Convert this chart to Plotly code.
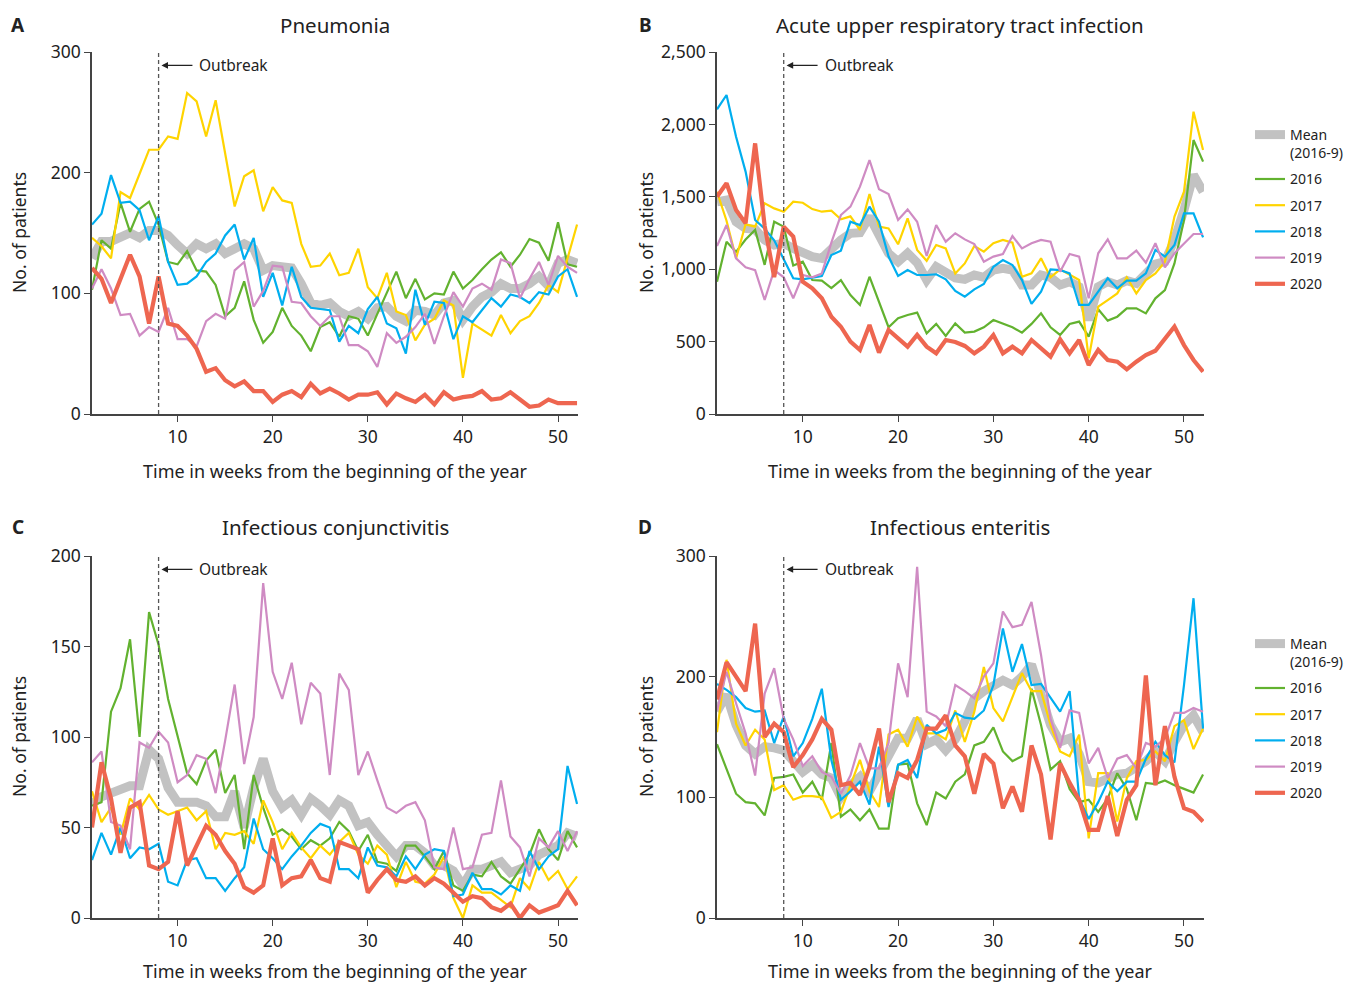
import plotly.graph_objects as go

weeks = list(range(1, 53))

# ---------------- Panel A: Pneumonia ----------------
A_mean = [129, 143, 143, 147, 150, 146, 152, 152, 148, 140, 133, 141, 137, 141, 133, 137, 141, 137, 119, 123, 122, 121, 108, 92, 90, 92, 85,
          81, 85, 79, 88, 89, 81, 77, 86, 85, 82, 92, 94, 78, 89, 97, 101, 108, 104, 104, 108, 114, 106, 125, 128, 125]
A_2016 = [103, 144, 137, 175, 151, 170, 176, 157, 126, 124, 135, 119, 118, 107, 81, 88, 110, 78, 59, 68, 88, 73, 65, 52, 72, 76, 64,
          81, 79, 65, 83, 100, 118, 96, 112, 95, 100, 99, 118, 104, 111, 120, 128, 134, 122, 132, 145, 142, 127, 159, 124, 122]
A_2017 = [146, 139, 129, 184, 179, 199, 219, 219, 230, 228, 266, 259, 230, 260, 216, 172, 197, 202, 168, 188, 177, 175, 141, 122, 123, 133, 115,
          117, 137, 105, 96, 117, 85, 82, 61, 74, 79, 94, 90, 30, 75, 70, 65, 82, 67, 77, 81, 92, 107, 101, 128, 157]
A_2018 = [157, 166, 198, 175, 176, 169, 144, 164, 126, 107, 108, 114, 126, 133, 148, 157, 128, 146, 97, 117, 90, 122, 97, 88, 87, 86, 60,
          73, 67, 87, 97, 75, 71, 50, 103, 74, 93, 92, 62, 81, 76, 86, 96, 89, 99, 97, 92, 101, 99, 114, 120, 97]
A_2019 = [104, 120, 104, 82, 83, 65, 72, 68, 88, 62, 62, 56, 77, 83, 79, 119, 126, 89, 102, 123, 122, 93, 92, 81, 73, 81, 81,
          57, 57, 52, 39, 67, 59, 64, 72, 83, 58, 81, 101, 89, 104, 108, 103, 128, 125, 96, 112, 126, 107, 131, 122, 117]
A_2020 = [121, 112, 92, 111, 132, 114, 75, 114, 75, 73, 65, 54, 35, 38, 28, 23, 27, 19, 19, 10, 16, 19, 14, 25, 17, 21, 17,
          12, 16, 16, 18, 8, 17, 13, 10, 16, 8, 18, 12, 14, 15, 19, 12, 13, 18, 12, 6, 7, 12, 9, 9, 9]

# ---------------- Panel B: Acute upper respiratory tract infection ----------------
B_mean = [1466, 1478, 1328, 1282, 1275, 1202, 1167, 1179, 1144, 1110, 1087, 1075, 1144, 1202, 1248, 1252, 1363, 1225, 1110, 1052, 1110, 1045, 925, 1017, 971, 940,
          930, 960, 944, 994, 1006, 994, 891, 891, 960, 944, 891, 914, 879, 649, 879, 914, 891, 921, 902, 960, 1036, 1052, 1202, 1409, 1651, 1535]
B_2016 = [914, 1190, 1120, 1205, 1271, 1030, 1328, 1294, 1025, 1052, 925, 921, 870, 925, 822, 753, 948, 776, 599, 661, 684, 700, 557, 622, 539, 626,
          562, 569, 599, 649, 626, 599, 562, 622, 695, 599, 546, 622, 638, 534, 723, 645, 672, 730, 730, 695, 799, 856, 1040, 1340, 1892, 1743]
B_2017 = [1535, 1335, 1075, 1310, 1294, 1455, 1420, 1397, 1466, 1459, 1415, 1397, 1404, 1345, 1365, 1271, 1519, 1294, 1282, 1172, 1351, 1133, 1058, 1167, 1144, 971,
          1040, 1160, 1121, 1179, 1202, 1183, 948, 971, 1075, 944, 999, 960, 925, 384, 741, 787, 833, 944, 833, 925, 971, 1052, 1363, 1535, 2088, 1823]
B_2018 = [2104, 2203, 1915, 1674, 1340, 1280, 1200, 1063, 937, 930, 944, 953, 1098, 1128, 1328, 1305, 1432, 1328, 1087, 953, 994, 960, 960, 965, 930, 850,
          810, 861, 898, 1017, 1063, 1029, 925, 760, 845, 999, 994, 971, 753, 753, 845, 937, 868, 921, 921, 971, 1133, 1087, 1167, 1386, 1386, 1220]
B_2019 = [1160, 1305, 1075, 1013, 994, 787, 994, 944, 799, 960, 944, 971, 1183, 1374, 1432, 1570, 1754, 1552, 1519, 1340, 1413, 1328, 1091, 1305, 1190, 1248,
          1206, 1174, 1052, 1087, 1105, 1229, 1144, 1179, 1202, 1190, 983, 1105, 1087, 799, 1110, 1206, 1075, 1075, 1128, 1045, 1179, 1013, 1110, 1174, 1243, 1243]
B_2020 = [1501, 1593, 1409, 1317, 1869, 1300, 946, 1294, 1225, 914, 868, 799, 672, 603, 500, 442, 615, 424, 580, 523, 465, 546, 465, 419, 511, 497,
          470, 419, 465, 546, 419, 465, 419, 511, 453, 396, 516, 419, 511, 338, 442, 373, 361, 308, 361, 407, 437, 523, 603, 476, 373, 292]

# ---------------- Panel C: Infectious conjunctivitis ----------------
C_mean = [63, 67, 69, 71, 73, 73, 93, 88, 72, 64, 64, 64, 62, 56, 56, 70, 50, 72, 88, 70, 61, 65, 57, 66, 62, 57, 65,
          62, 51, 53, 46, 39, 34, 40, 40, 36, 29, 29, 26, 18, 27, 27, 29, 31, 25, 27, 29, 35, 38, 40, 47, 45]
C_2016 = [62, 64, 114, 127, 154, 100, 169, 151, 121, 100, 80, 74, 87, 93, 69, 79, 38, 79, 61, 46, 49, 45, 38, 43, 40, 44, 53,
          48, 37, 46, 31, 30, 26, 40, 40, 34, 27, 37, 18, 15, 24, 23, 31, 23, 19, 27, 35, 49, 38, 32, 48, 39]
C_2017 = [70, 53, 61, 46, 66, 60, 68, 60, 57, 59, 61, 54, 59, 38, 47, 46, 48, 41, 65, 53, 38, 47, 39, 33, 40, 35, 42,
          47, 35, 30, 40, 35, 17, 31, 20, 19, 24, 34, 11, 0, 18, 14, 14, 10, 6, 22, 16, 31, 21, 26, 16, 23]
C_2018 = [32, 47, 35, 50, 33, 39, 38, 41, 20, 18, 32, 33, 22, 22, 15, 22, 28, 55, 38, 33, 27, 34, 40, 47, 52, 50, 27,
          27, 22, 39, 29, 28, 23, 34, 27, 35, 38, 37, 12, 13, 25, 16, 16, 13, 18, 15, 37, 27, 34, 38, 84, 63]
C_2019 = [86, 92, 53, 51, 38, 97, 94, 103, 97, 75, 79, 90, 88, 69, 98, 129, 85, 111, 185, 136, 121, 141, 107, 130, 124, 79, 135,
          126, 79, 92, 76, 61, 58, 62, 64, 54, 28, 27, 50, 27, 28, 46, 47, 76, 45, 39, 23, 44, 39, 48, 37, 48]
C_2020 = [50, 86, 66, 36, 61, 64, 29, 27, 31, 59, 29, 40, 51, 46, 37, 30, 17, 14, 18, 44, 18, 22, 23, 32, 22, 20, 42,
          40, 38, 14, 21, 27, 21, 20, 23, 18, 22, 19, 14, 9, 12, 11, 6, 4, 8, 0, 7, 3, 5, 7, 15, 7]

# ---------------- Panel D: Infectious enteritis ----------------
D_mean = [171, 185, 160, 143, 136, 142, 141, 139, 130, 121, 127, 119, 116, 100, 110, 117, 105, 119, 132, 149, 149, 165, 144, 148, 139, 148,
          163, 182, 188, 193, 197, 193, 200, 210, 182, 160, 146, 149, 136, 113, 112, 116, 119, 120, 124, 130, 138, 130, 146, 160, 168, 154]
D_2016 = [144, 124, 103, 96, 95, 85, 116, 117, 119, 104, 113, 98, 145, 84, 90, 81, 90, 74, 74, 127, 128, 95, 77, 104, 99, 113,
          119, 143, 146, 158, 138, 130, 134, 190, 160, 123, 130, 107, 96, 98, 88, 99, 120, 107, 81, 112, 111, 114, 110, 107, 104, 119]
D_2017 = [154, 214, 161, 143, 156, 148, 106, 110, 98, 101, 101, 100, 83, 88, 110, 131, 105, 92, 152, 156, 142, 167, 153, 153, 148, 172,
          146, 171, 208, 174, 163, 183, 203, 188, 188, 160, 138, 134, 152, 66, 120, 120, 80, 116, 130, 131, 138, 130, 159, 164, 140, 157]
D_2018 = [194, 189, 183, 174, 171, 172, 145, 167, 134, 145, 165, 190, 131, 98, 105, 113, 94, 142, 92, 127, 131, 116, 160, 153, 156, 170,
          166, 165, 172, 193, 240, 204, 227, 193, 194, 182, 171, 188, 99, 82, 96, 113, 105, 113, 113, 132, 146, 135, 129, 193, 265, 157]
D_2019 = [172, 204, 178, 153, 118, 186, 207, 165, 148, 126, 134, 121, 117, 103, 118, 145, 124, 124, 145, 211, 183, 291, 171, 167, 159, 193,
          188, 182, 200, 211, 254, 241, 243, 262, 218, 165, 141, 172, 170, 128, 141, 116, 132, 135, 124, 145, 142, 149, 170, 170, 174, 171]
D_2020 = [181, 212, 200, 188, 244, 150, 161, 154, 125, 135, 148, 165, 156, 110, 112, 102, 125, 157, 96, 120, 116, 131, 157, 157, 168, 143,
          134, 103, 136, 128, 91, 109, 88, 143, 119, 65, 128, 112, 98, 73, 73, 101, 68, 98, 110, 201, 110, 159, 117, 91, 88, 80]

series_names = ["Mean<br>(2016-9)", "2016", "2017", "2018", "2019", "2020"]
series_colors = ["#C2C2C2", "#62B22F", "#FFD400", "#00AEEF", "#CF8BC3", "#EE6650"]
series_widths = [9, 2.2, 2.2, 2.2, 2.2, 4.2]

panel_titles = ["Pneumonia", "Acute upper respiratory tract infection",
                "Infectious conjunctivitis", "Infectious enteritis"]
panel_letters = ["A", "B", "C", "D"]
outbreak_week = 8

W, H = 1360, 985
FONT = "Noto Sans"
TXT = "#222222"
AXC = "#444444"


def px(x):
    return x / W


def py(y):
    return 1 - y / H


panels = [
    dict(data=[A_mean, A_2016, A_2017, A_2018, A_2019, A_2020], xa="x", ya="y",
         xd=[92, 578], yd=[414, 52], yr=[0, 300], dt=100, legend=None, cx=335, top=25, xt=471),
    dict(data=[B_mean, B_2016, B_2017, B_2018, B_2019, B_2020], xa="x2", ya="y2",
         xd=[717, 1204], yd=[414, 52], yr=[0, 2500], dt=500, legend="legend", cx=960, top=25, xt=471),
    dict(data=[C_mean, C_2016, C_2017, C_2018, C_2019, C_2020], xa="x3", ya="y3",
         xd=[92, 578], yd=[918, 556], yr=[0, 200], dt=50, legend=None, cx=335, top=527, xt=971),
    dict(data=[D_mean, D_2016, D_2017, D_2018, D_2019, D_2020], xa="x4", ya="y4",
         xd=[717, 1204], yd=[918, 556], yr=[0, 300], dt=100, legend="legend2", cx=960, top=527, xt=971),
]

fig = go.Figure()
layout = dict(
    width=W, height=H, margin=dict(l=0, r=0, t=0, b=0, autoexpand=False),
    paper_bgcolor="white", plot_bgcolor="white",
    font=dict(family=FONT, color=TXT, size=16),
    showlegend=True,
)
annotations = []
shapes = []

for i, p in enumerate(panels):
    for j, vals in enumerate(p["data"]):
        tr = dict(
            x=weeks, y=vals, mode="lines", name=series_names[j],
            line=dict(color=series_colors[j], width=series_widths[j]),
            xaxis=p["xa"], yaxis=p["ya"], hoverinfo="skip",
        )
        if p["legend"]:
            tr["legend"] = p["legend"]
            tr["legendgroup"] = p["legend"] + str(j)
            tr["showlegend"] = True
        else:
            tr["showlegend"] = False
        fig.add_trace(go.Scatter(**tr))

    n = "" if i == 0 else str(i + 1)
    layout["xaxis" + n] = dict(
        domain=[px(p["xd"][0]), px(p["xd"][1])], range=[1, 52.1],
        anchor=p["ya"], tickvals=[10, 20, 30, 40, 50], ticks="outside", ticklen=6,
        tickcolor=AXC, tickwidth=1.3, showline=True, linecolor=AXC, linewidth=1.5,
        showgrid=False, zeroline=False, tickfont=dict(size=17.5, color=TXT, family=FONT),
    )
    layout["yaxis" + n] = dict(
        domain=[py(p["yd"][0]), py(p["yd"][1])], range=p["yr"],
        anchor=p["xa"], dtick=p["dt"], tick0=0, ticks="outside", ticklen=6,
        tickcolor=AXC, tickwidth=1.3, showline=True, linecolor=AXC, linewidth=1.5,
        showgrid=False, zeroline=False, tickformat=",d",
        tickfont=dict(size=17.5, color=TXT, family=FONT),
    )

    # outbreak dashed line
    shapes.append(dict(type="line", xref=p["xa"], yref=p["ya"] + " domain",
                       x0=outbreak_week, x1=outbreak_week, y0=0, y1=1,
                       line=dict(color="#555555", width=1.3, dash="4px,3px")))
    annotations.append(dict(
        xref=p["xa"], yref=p["ya"] + " domain", x=outbreak_week + 0.3, y=0.963,
        text="Outbreak", showarrow=True, ax=36, ay=0, xanchor="left",
        startstandoff=5, arrowhead=2, arrowsize=1.1, arrowwidth=1.2, arrowcolor="#222222",
        font=dict(size=15.5, color=TXT, family=FONT),
    ))
    # panel letter and title
    lx = 18 if p["xd"][0] < 300 else 645
    annotations.append(dict(xref="paper", yref="paper", x=px(lx), y=py(p["top"]),
                            text="<b>%s</b>" % panel_letters[i], showarrow=False,
                            xanchor="center", yanchor="middle",
                            font=dict(size=19, color=TXT, family=FONT)))
    annotations.append(dict(xref="paper", yref="paper", x=px(p["cx"]), y=py(p["top"]),
                            text=panel_titles[i], showarrow=False,
                            xanchor="center", yanchor="middle",
                            font=dict(size=20.5, color=TXT, family=FONT)))
    # axis titles
    ymid = (p["yd"][0] + p["yd"][1]) / 2
    annotations.append(dict(xref="paper", yref="paper", x=px(lx + 1), y=py(ymid),
                            text="No. of patients", showarrow=False, textangle=-90,
                            xanchor="center", yanchor="middle",
                            font=dict(size=17.5, color=TXT, family=FONT)))
    annotations.append(dict(xref="paper", yref="paper", x=px(p["cx"]), y=py(p["xt"]),
                            text="Time in weeks from the beginning of the year", showarrow=False,
                            xanchor="center", yanchor="middle",
                            font=dict(size=18, color=TXT, family=FONT)))

legend_common = dict(
    xanchor="left", yanchor="top", font=dict(size=14, color=TXT, family=FONT),
    tracegroupgap=5, traceorder="grouped", valign="top",
    bgcolor="rgba(0,0,0,0)", borderwidth=0,
)
layout["legend"] = dict(x=px(1250), y=py(119), **legend_common)
layout["legend2"] = dict(x=px(1250), y=py(628), **legend_common)
layout["annotations"] = annotations
layout["shapes"] = shapes

fig.update_layout(**layout)
fig.write_html("out.html")
